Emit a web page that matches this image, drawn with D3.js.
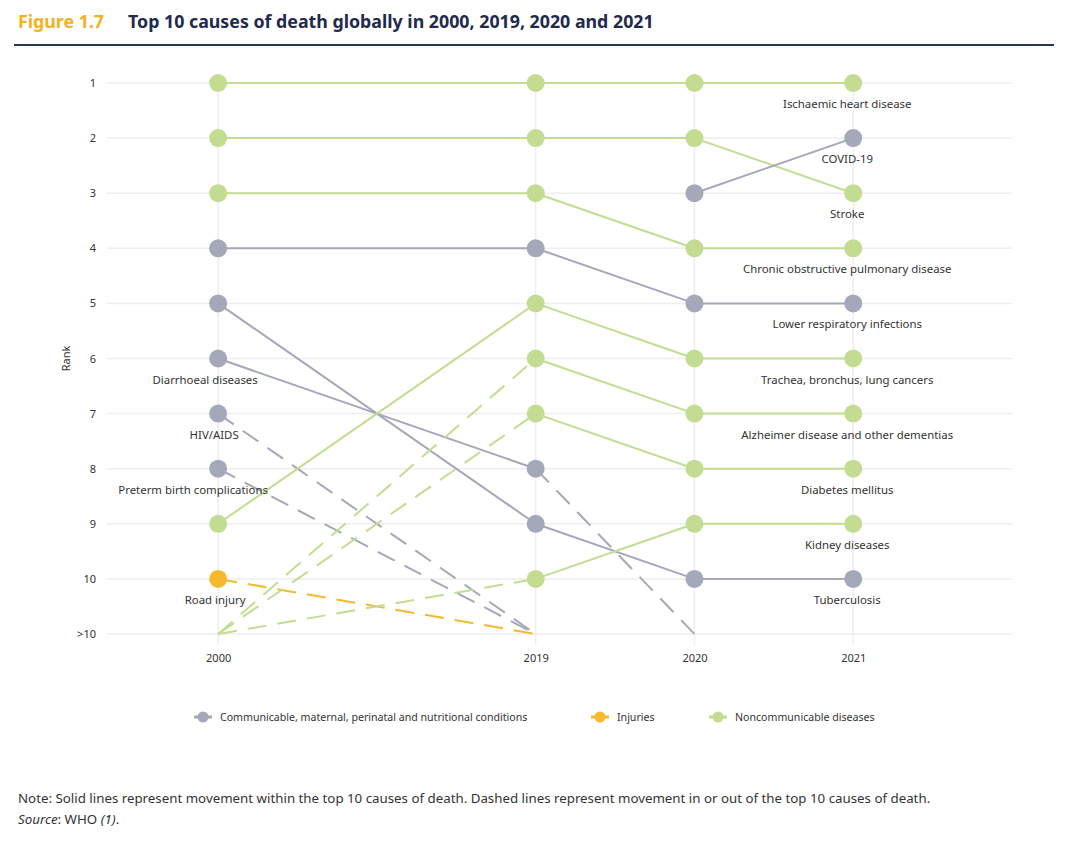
<!DOCTYPE html>
<html>
<head>
<meta charset="utf-8">
<script src="https://cdn.jsdelivr.net/npm/d3@7"></script>
<style>
  body { margin: 0; background: #fff; }
  svg { font-family: "Noto Sans", sans-serif; }
</style>
</head>
<body>
<svg id="chart" width="1080" height="849"></svg>
<script>
// Data
const years = ["2000", "2019", "2020", "2021"];
const yearPos = [0, 2, 3, 4];
const rankTicks = [1, 2, 3, 4, 5, 6, 7, 8, 9, 10, 11];
const rankLabels = ["1", "2", "3", "4", "5", "6", "7", "8", "9", "10", ">10"];

const groups = ["Communicable, maternal, perinatal and nutritional conditions", "Injuries", "Noncommunicable diseases"];
const groupColors = ["#a4a8b9", "#f6b92e", "#c3dc92"];

const causes = [
  "Ischaemic heart disease", "Stroke", "Chronic obstructive pulmonary disease",
  "Lower respiratory infections", "Tuberculosis", "Diarrhoeal diseases", "HIV/AIDS",
  "Preterm birth complications", "Trachea, bronchus, lung cancers", "Road injury",
  "Alzheimer disease and other dementias", "Diabetes mellitus", "Kidney diseases", "COVID-19"
];
const causeGroup = [2, 2, 2, 0, 0, 0, 0, 0, 2, 1, 2, 2, 2, 0];
// 11 = outside top 10, null = not shown
const rank2000 = [1, 2, 3, 4, 5, 6, 7, 8, 9, 10, 11, 11, 11, null];
const rank2019 = [1, 2, 3, 4, 9, 8, 11, 11, 5, 11, 6, 7, 10, null];
const rank2020 = [1, 2, 4, 5, 10, 11, null, null, 6, null, 7, 8, 9, 3];
const rank2021 = [1, 3, 4, 5, 10, null, null, null, 6, null, 7, 8, 9, 2];

const svg = d3.select("#chart");

// Title
svg.append("text").attr("x", 18).attr("y", 28)
  .attr("font-size", 17.8).attr("font-weight", 700).attr("fill", "#f5b01f")
  .text("Figure 1.7");
svg.append("text").attr("x", 128).attr("y", 28)
  .attr("font-size", 17.8).attr("font-weight", 700).attr("fill", "#1f2a4d")
  .text("Top 10 causes of death globally in 2000, 2019, 2020 and 2021");
svg.append("line").attr("x1", 14).attr("x2", 1054).attr("y1", 45).attr("y2", 45)
  .attr("stroke", "#2a3358").attr("stroke-width", 2);

// Scales
const x = d3.scaleLinear().domain([-0.7, 5]).range([107, 1012]);
const y = d3.scaleLinear().domain([1, 11]).range([83, 634]);

const g = svg.append("g");

// Grid
g.selectAll(".hgrid").data(rankTicks).enter().append("line")
  .attr("x1", x(-0.7)).attr("x2", x(5))
  .attr("y1", d => y(d)).attr("y2", d => y(d))
  .attr("stroke", "#eeeeee").attr("stroke-width", 1.5);
g.selectAll(".vgrid").data(yearPos).enter().append("line")
  .attr("x1", d => x(d)).attr("x2", d => x(d))
  .attr("y1", y(1)).attr("y2", y(11.2))
  .attr("stroke", "#eeeeee").attr("stroke-width", 1.5);

// Y axis
const yAxis = d3.axisLeft(y).tickValues(rankTicks)
  .tickFormat((d, i) => rankLabels[i]).tickSize(0).tickPadding(0);
const ya = svg.append("g").attr("transform", "translate(96,0)").call(yAxis);
ya.select(".domain").remove();
ya.selectAll("text").attr("font-size", 11).attr("fill", "#333")
  .attr("font-family", "Noto Sans");

svg.append("text")
  .attr("transform", "translate(70," + y(6) + ") rotate(-90)")
  .attr("text-anchor", "middle").attr("font-size", 11).attr("fill", "#333")
  .text("Rank");

// X axis
const xAxis = d3.axisBottom(x).tickValues(yearPos)
  .tickFormat((d, i) => years[i]).tickSize(0).tickPadding(0);
const xa = svg.append("g").attr("transform", "translate(0,654)").call(xAxis);
xa.select(".domain").remove();
xa.selectAll("text").attr("font-size", 11).attr("fill", "#333")
  .attr("font-family", "Noto Sans");

// Build rows
const rows = causes.map((c, i) => ({
  name: c,
  color: groupColors[causeGroup[i]],
  ranks: [rank2000[i], rank2019[i], rank2020[i], rank2021[i]]
}));

// Segments
const segs = [];
rows.forEach(r => {
  for (let k = 0; k < 3; k++) {
    const a = r.ranks[k], b = r.ranks[k + 1];
    if (a != null && b != null && !(a === 11 && b === 11)) {
      segs.push({ x1: yearPos[k], x2: yearPos[k + 1], r1: a, r2: b,
        color: r.color, dashed: a === 11 || b === 11 });
    }
  }
});

g.selectAll(".seg").data(segs).enter().append("line")
  .attr("x1", d => x(d.x1)).attr("x2", d => x(d.x2))
  .attr("y1", d => y(d.r1)).attr("y2", d => y(d.r2))
  .attr("stroke", d => d.color).attr("stroke-width", 2)
  .attr("stroke-dasharray", d => d.dashed ? "19,11" : null);

// Dots
const dots = [];
rows.forEach(r => {
  r.ranks.forEach((v, k) => {
    if (v != null && v <= 10) dots.push({ pos: yearPos[k], rank: v, color: r.color });
  });
});
g.selectAll(".dot").data(dots).enter().append("circle")
  .attr("cx", d => x(d.pos)).attr("cy", d => y(d.rank))
  .attr("r", 9).attr("fill", d => d.color);

// Labels: at 2021 if still present, otherwise at 2000
const labelShift = { "Diarrhoeal diseases": -13, "HIV/AIDS": -4, "Preterm birth complications": -25, "Road injury": -3 };
const labels = rows.map(r => {
  const k = r.ranks[3] != null ? 3 : 0;
  return { name: r.name, pos: yearPos[k], rank: r.ranks[k] };
});
g.selectAll(".lab").data(labels).enter().append("text")
  .attr("x", d => x(d.pos) + (labelShift[d.name] != null ? labelShift[d.name] : -6))
  .attr("y", d => y(d.rank) + 25)
  .attr("text-anchor", "middle").attr("font-size", 11.4).attr("fill", "#333")
  .text(d => d.name);

// Legend
const legX = [203, 600, 718];
const leg = svg.append("g");
groups.forEach((name, i) => {
  const lg = leg.append("g").attr("transform", "translate(" + legX[i] + ",717)");
  lg.append("line").attr("x1", -9).attr("x2", 9).attr("stroke", groupColors[i]).attr("stroke-width", 3);
  lg.append("circle").attr("r", 5.5).attr("fill", groupColors[i]);
  lg.append("text").attr("x", 17).attr("y", 3.7).attr("font-size", 10.6).attr("fill", "#333")
    .text(name);
});

// Note
svg.append("text").attr("x", 18).attr("y", 803).attr("font-size", 13.3).attr("fill", "#333")
  .text("Note: Solid lines represent movement within the top 10 causes of death. Dashed lines represent movement in or out of the top 10 causes of death.");
const src = svg.append("text").attr("x", 18).attr("y", 824).attr("font-size", 13.3).attr("fill", "#333");
src.append("tspan").attr("font-style", "italic").text("Source");
src.append("tspan").text(": WHO ");
src.append("tspan").attr("font-style", "italic").text("(1)");
src.append("tspan").text(".");
</script>
</body>
</html>
